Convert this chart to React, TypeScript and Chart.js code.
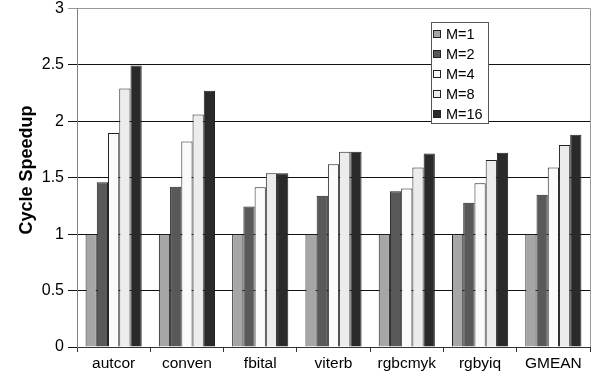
import React, { useEffect, useRef } from "react";
import { Chart, registerables } from "chart.js";

Chart.register(...registerables);

const categories = ["autcor", "conven", "fbital", "viterb", "rgbcmyk", "rgbyiq", "GMEAN"];
const seriesNames = ["M=1", "M=2", "M=4", "M=8", "M=16"];
const m1 = [1.0, 1.0, 1.0, 1.0, 1.0, 1.0, 1.0];
const m2 = [1.46, 1.42, 1.245, 1.34, 1.38, 1.277, 1.35];
const m4 = [1.895, 1.82, 1.415, 1.62, 1.405, 1.45, 1.59];
const m8 = [2.29, 2.06, 1.54, 1.73, 1.59, 1.657, 1.79];
const m16 = [2.495, 2.27, 1.54, 1.73, 1.715, 1.72, 1.88];
const yTicks = [0, 0.5, 1, 1.5, 2, 2.5, 3];
const yTitle = "Cycle Speedup";

const FONT = "'Liberation Sans', Arial, Helvetica, sans-serif";
const fills = ["#a6a6a6", "#595959", "#fafafa", "#ececec", "#2a2a2a"];
const seriesValues = [m1, m2, m4, m8, m16];

const overlayPlugin = {
  id: "overlay",
  afterDraw(chart: any) {
    const { ctx, chartArea } = chart;
    ctx.save();
    // right border of plot
    ctx.strokeStyle = "#999999";
    ctx.lineWidth = 1;
    ctx.beginPath();
    ctx.moveTo(Math.round(chartArea.right) + 0.5, chartArea.top);
    ctx.lineTo(Math.round(chartArea.right) + 0.5, chartArea.bottom);
    ctx.stroke();

    // y axis title
    ctx.save();
    ctx.translate(27, 170);
    ctx.rotate(-Math.PI / 2);
    ctx.font = `bold 18px ${FONT}`;
    ctx.fillStyle = "#000";
    ctx.textAlign = "center";
    ctx.textBaseline = "middle";
    ctx.fillText(yTitle, 0, 0);
    ctx.restore();

    // legend box
    const bx = 431.5, by = 22.5, bw = 57, bh = 101;
    ctx.fillStyle = "#ffffff";
    ctx.fillRect(bx, by, bw, bh);
    ctx.strokeStyle = "#555555";
    ctx.strokeRect(bx, by, bw, bh);
    ctx.font = `14.5px ${FONT}`;
    ctx.textBaseline = "middle";
    ctx.textAlign = "left";
    seriesNames.forEach((name, i) => {
      const cy = 34 + i * 20;
      ctx.fillStyle = fills[i];
      ctx.fillRect(433.5, cy - 3.5, 7, 7);
      ctx.strokeStyle = "#222222";
      ctx.strokeRect(433.5, cy - 3.5, 7, 7);
      ctx.fillStyle = "#000000";
      ctx.fillText(name, 446, cy + 1);
    });
    ctx.restore();
  },
};

export default function App() {
  const ref = useRef<HTMLCanvasElement>(null);
  useEffect(() => {
    if (!ref.current) return;
    const chart = new Chart(ref.current, {
      type: "bar",
      data: {
        labels: categories,
        datasets: seriesNames.map((name, i) => ({
          label: name,
          data: seriesValues[i],
          backgroundColor: fills[i],
          borderColor: "#222222",
          borderWidth: 1,
          barPercentage: 1.0,
          categoryPercentage: 0.766,
        })),
      },
      options: {
        responsive: false,
        animation: false,
        layout: { padding: { left: 0, right: 5, top: 0, bottom: 0 } },
        plugins: { legend: { display: false }, tooltip: { enabled: false } },
        scales: {
          x: {
            grid: {
              offset: true,
              drawOnChartArea: false,
              drawTicks: true,
              tickLength: 5,
              color: "#333333",
            },
            border: { color: "#333333", width: 1 },
            ticks: { color: "#000", font: { family: FONT, size: 15.5 }, padding: 2, maxRotation: 0 },
            afterFit: (s: any) => {
              s.height = 41;
            },
          },
          y: {
            min: 0,
            max: 3,
            afterBuildTicks: (s: any) => {
              s.ticks = yTicks.map((v) => ({ value: v }));
            },
            grid: {
              color: (c: any) => (c.tick && c.tick.value === 3 ? "#999999" : "#111111"),
              tickLength: 9,
              lineWidth: 1,
            },
            border: { color: "#808080", width: 1 },
            ticks: {
              color: "#000",
              font: { family: FONT, size: 16, lineHeight: 0.55 },
              padding: 4,
              callback: (v: any) => String(Number(v)),
            },
            afterFit: (s: any) => {
              s.width = 77;
            },
          },
        },
      },
      plugins: [overlayPlugin],
    });
    return () => chart.destroy();
  }, []);
  return (
    <div style={{ position: "absolute", left: 0, top: 0, width: 595, height: 388, background: "#fff" }}>
      <canvas ref={ref} width={595} height={388} />
    </div>
  );
}
